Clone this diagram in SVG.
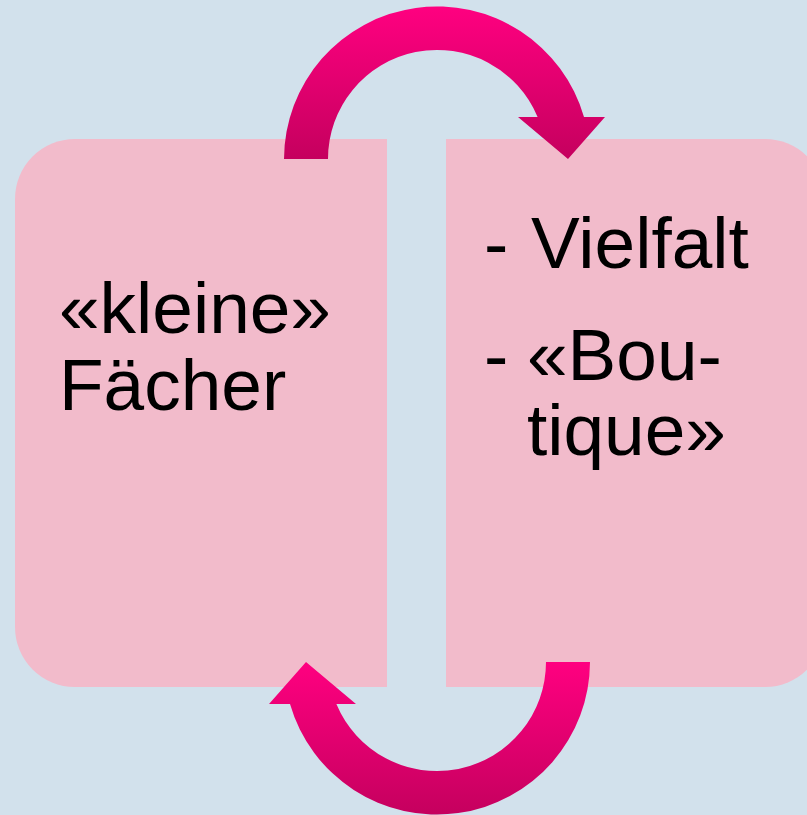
<svg xmlns="http://www.w3.org/2000/svg" width="807" height="815" viewBox="0 0 807 815">
  <style>
    .box { fill: #F2BBCB; }
    .label { font-family: "Liberation Sans", Arial, sans-serif; font-size: 73px; fill: #000000; }
    .arrow { fill: url(#arrowGrad); }
  </style>
  <defs>
    <linearGradient id="arrowGrad" x1="0" y1="0" x2="0" y2="1">
      <stop offset="0" stop-color="#FF0080"/>
      <stop offset="1" stop-color="#C5005E"/>
    </linearGradient>
  </defs>
  <rect x="0" y="0" width="807" height="815" fill="#D2E1EC"/>
  <g id="node-left">
    <path class="box" d="M387,139 L75,139 A60,60 0 0 0 15,199 L15,627 A60,60 0 0 0 75,687 L387,687 Z"/>
    <text class="label" x="59" y="333">«kleine»</text>
    <text class="label" x="59" y="410">Fächer</text>
  </g>
  <g id="node-right">
    <path class="box" d="M446,139 L765,139 A60,60 0 0 1 825,199 L825,627 A60,60 0 0 1 765,687 L446,687 Z"/>
    <text class="label" x="484" y="268">- <tspan x="531">Vielfalt</tspan></text>
    <text class="label" x="484" y="380">- <tspan x="527">«Bou-</tspan></text>
    <text class="label" x="527" y="455">tique»</text>
  </g>
  <g id="connectors">
    <path class="arrow" d="M284,159 A153,153 0 0 1 584,117 L605,117 L568,159 L518,117 L537.6,117 A109,109 0 0 0 328,159 Z"/>
    <path class="arrow" d="M590,662 A153,153 0 0 1 290,704 L269,704 L306,662 L356,704 L336.4,704 A109,109 0 0 0 546,662 Z"/>
  </g>
</svg>
